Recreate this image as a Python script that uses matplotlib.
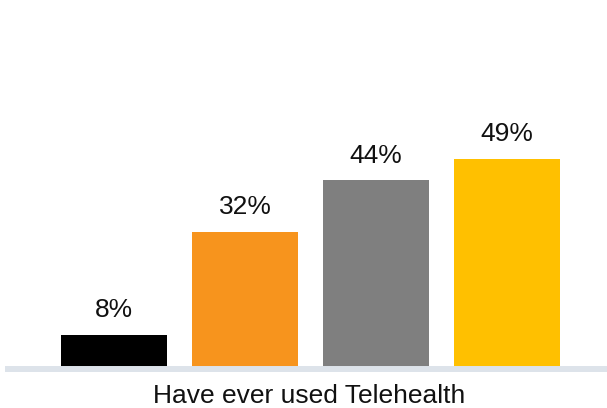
import matplotlib
matplotlib.use("Agg")
import matplotlib.pyplot as plt
from matplotlib.lines import Line2D

plt.rcParams['font.family'] = ['Liberation Sans', 'DejaVu Sans']

values = [8, 32, 44, 49]
value_labels = ["8%", "32%", "44%", "49%"]
colors = ["#000000", "#F7941D", "#7F7F7F", "#FFC000"]
group_label = "Have ever used Telehealth"

W, H = 607, 408
fig = plt.figure(figsize=(W / 100, H / 100), dpi=100)
# axes: left 8px, right 607px, zero line at y=369px, top at y=0
ax = fig.add_axes([8 / W, (H - 369) / H, 599 / W, 369 / H])
ax.set_xlim(-0.809, 3.764)
ax.set_ylim(0, 369 / 4.29)
ax.axis('off')

x = list(range(len(values)))
ax.bar(x, values, width=106 / 131, color=colors, zorder=2)
for xi, v, lab in zip(x, values, value_labels):
    ax.annotate(lab, (xi, v), xytext=(0, 12.5), textcoords='offset points',
                ha='center', va='baseline', fontsize=19, color='#111111')

fig.add_artist(Line2D([8 / W, 1.0], [(H - 369) / H] * 2, transform=fig.transFigure,
                      color='#DDE3EA', linewidth=4.3, zorder=1))
fig.text(309.5 / W, 5 / H, group_label, ha='center', va='baseline',
         fontsize=19, color='#111111')

fig.savefig('out.png', dpi=100)
